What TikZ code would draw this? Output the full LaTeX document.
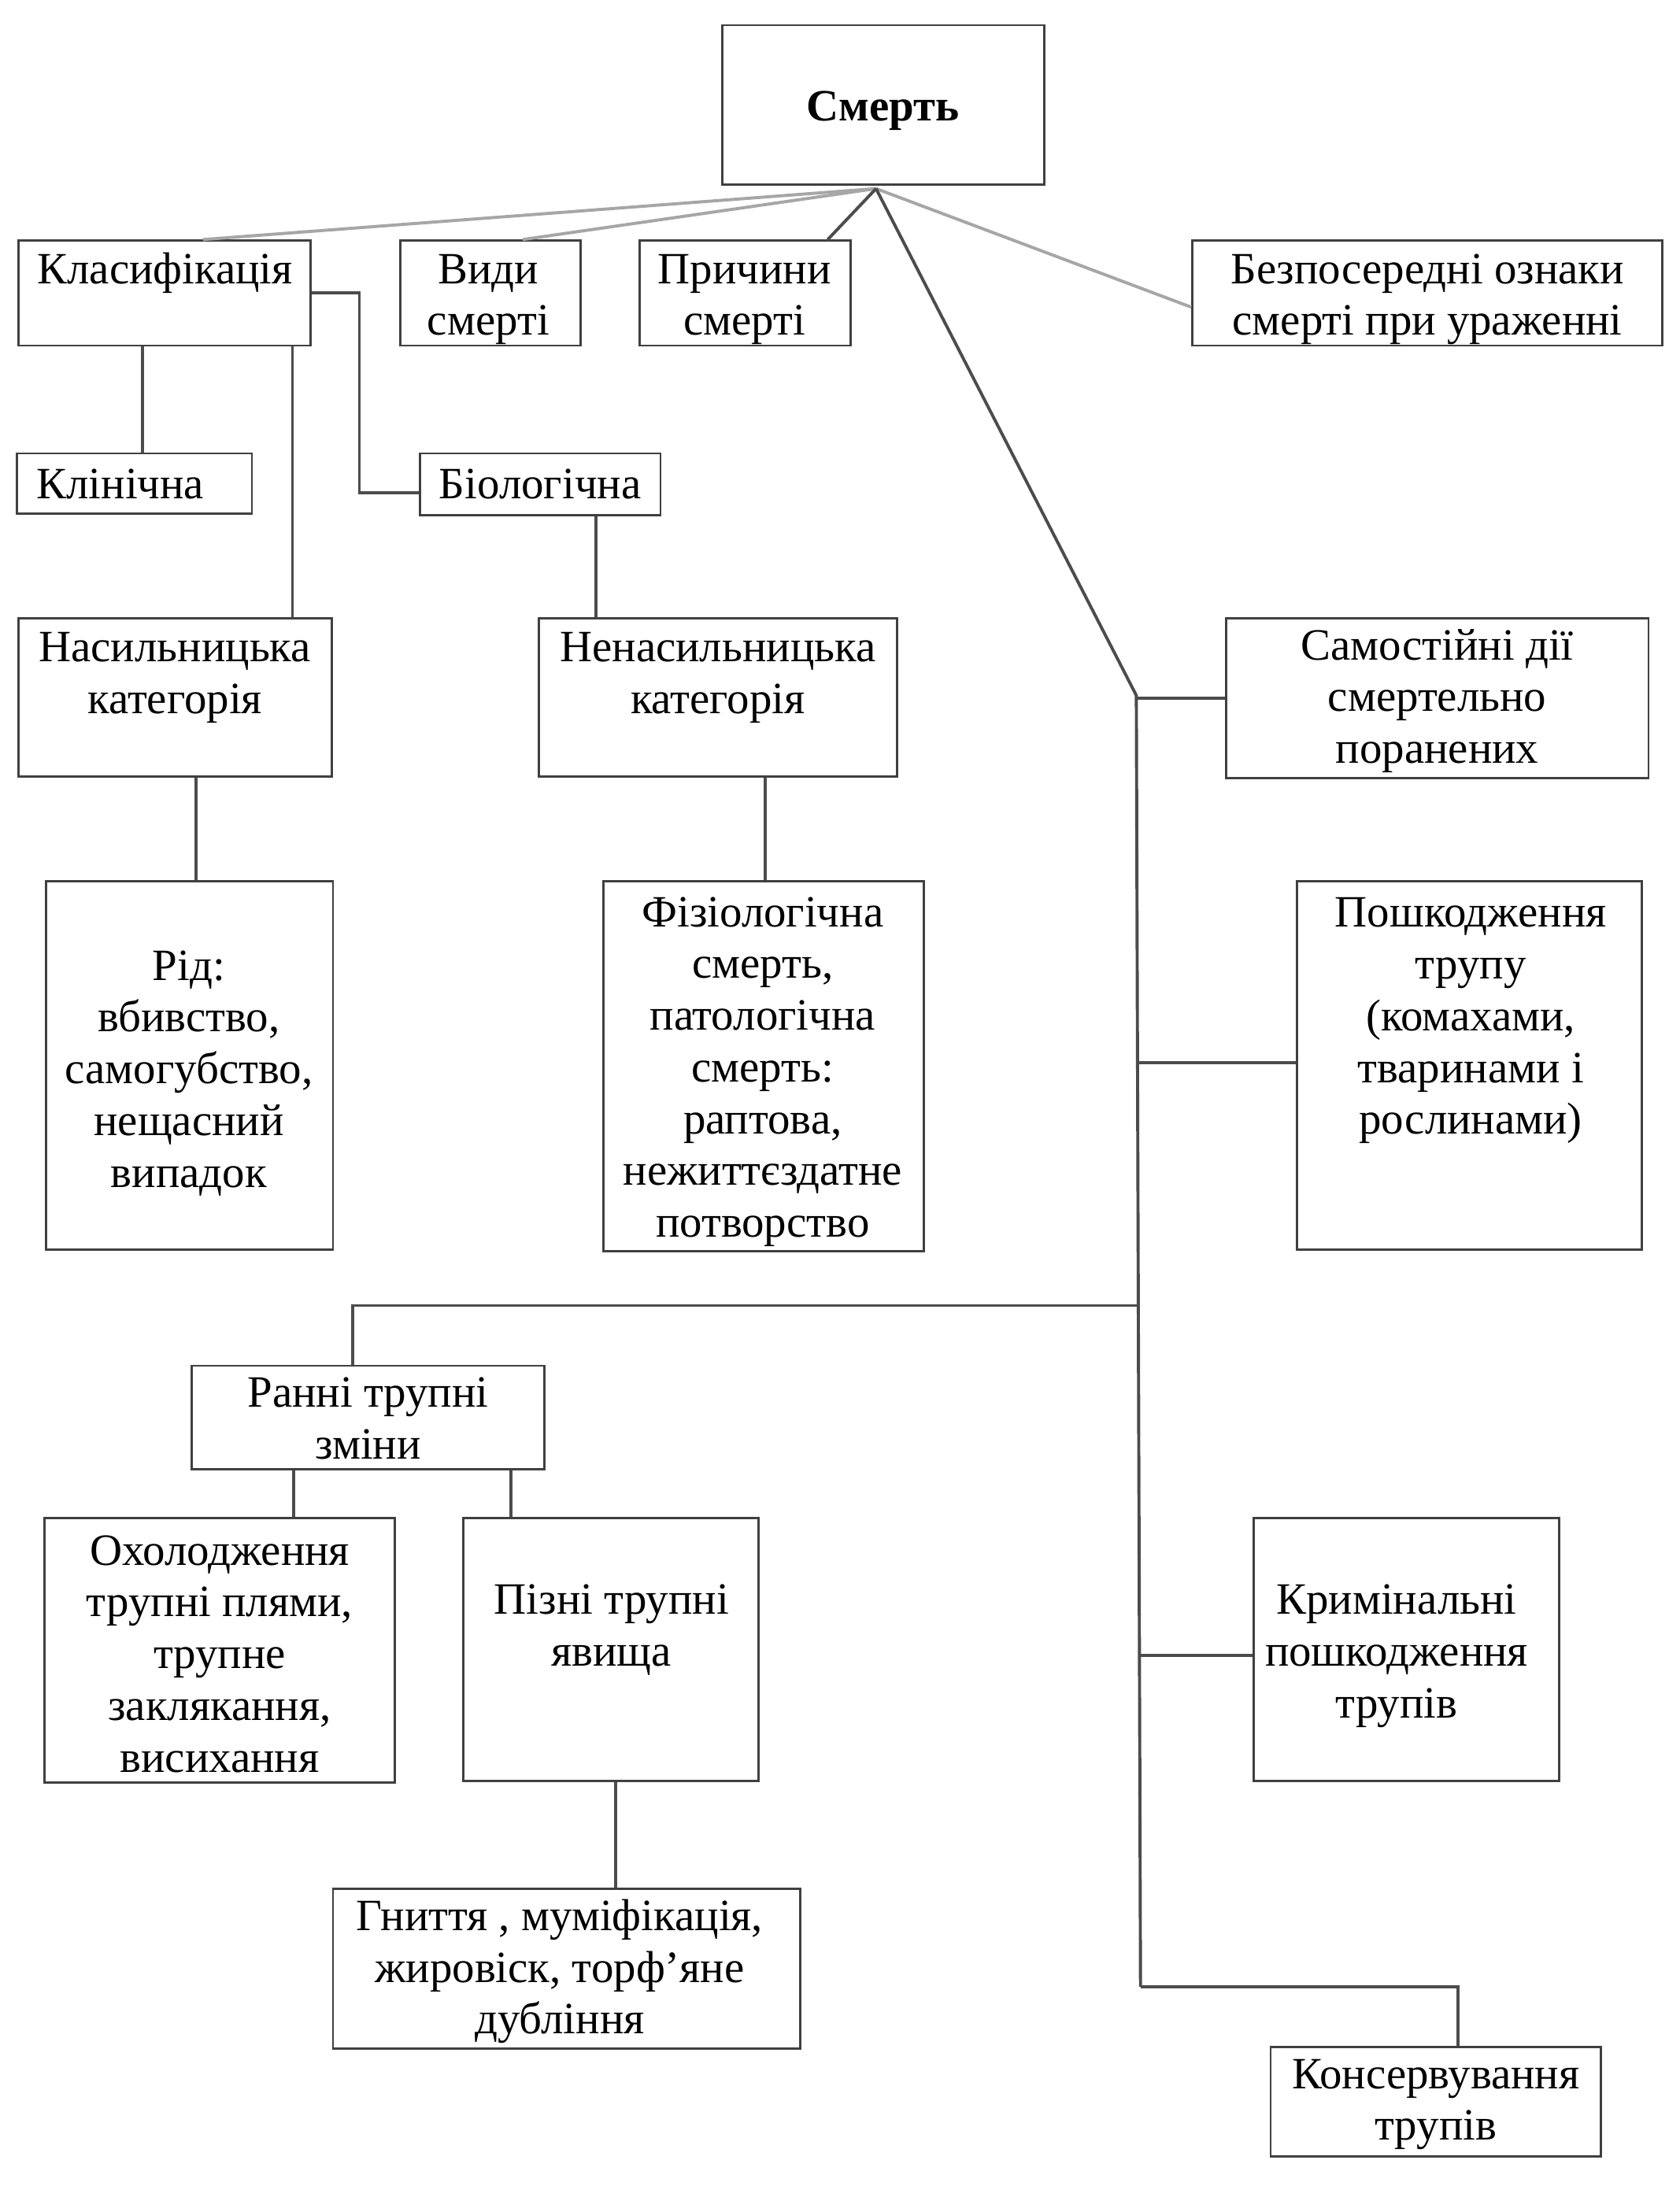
\documentclass[tikz,border=0pt]{standalone}
\usepackage{fontspec}
\setmainfont{Liberation Serif}
\usetikzlibrary{calc}
\tikzset{
  box/.style={draw=black!75, line width=0.8pt, inner sep=0pt},
  txt/.style={inner sep=0pt, align=center, yshift=-1.5pt, font=\fontsize{16}{18.5}\selectfont},
  dk/.style={draw=black!70, line width=1.1pt},
  lt/.style={draw=black!35, line width=1.1pt},
}
\newcommand\mkbox[5]{%
  \pgfmathsetmacro\cx{(#2+#4)/2}%
  \pgfmathsetmacro\cy{(#3+#5)/2}%
  \pgfmathsetmacro\bw{(#4-#2)*0.5}%
  \pgfmathsetmacro\bh{(#5-#3)*0.5}%
  \node[box, minimum width=\bw pt, minimum height=\bh pt] (#1) at (\cx,\cy) {};}
\begin{document}
\begin{tikzpicture}[x=0.5pt,y=-0.5pt]
\useasboundingbox[fill=white] (0,0) rectangle (1200,1578);
% boxes
\mkbox{smert}{516}{18}{746}{132}
\mkbox{klas}{13}{172}{222}{247}
\mkbox{vydy}{286}{172}{415}{247}
\mkbox{prych}{457}{172}{608}{247}
\mkbox{bezp}{852}{172}{1188}{247}
\mkbox{klin}{12}{324}{180}{367}
\mkbox{biol}{300}{324}{472}{368}
\mkbox{nas}{13}{442}{237}{555}
\mkbox{nen}{385}{442}{641}{555}
\mkbox{sam}{876}{442}{1178}{556}
\mkbox{rid}{33}{630}{238}{893}
\mkbox{fiz}{431}{630}{660}{894}
\mkbox{posh}{927}{630}{1173}{893}
\mkbox{rann}{137}{976}{389}{1050}
\mkbox{okh}{32}{1085}{282}{1274}
\mkbox{piz}{331}{1085}{542}{1273}
\mkbox{krim}{896}{1085}{1114}{1273}
\mkbox{hny}{238}{1350}{572}{1464}
\mkbox{kons}{908}{1463}{1144}{1541}
% texts
\node[txt, font=\fontsize{16}{18.5}\selectfont\bfseries] (smert-t) at (631,76) {Смерть};
\node[txt] (klas-t) at (118,192) {Класифікація};
\node[txt] (vydy-t) at (349,211) {Види\\смерті};
\node[txt] (prych-t) at (532,211) {Причини\\смерті};
\node[txt] (bezp-t) at (1020,211) {Безпосередні ознаки\\смерті при ураженні};
\node[txt] (klin-t) at (86,343) {Клінічна};
\node[txt] (biol-t) at (386,343) {Біологічна};
\node[txt] (nas-t) at (125,481.5) {Насильницька\\категорія};
\node[txt] (nen-t) at (513,481.5) {Ненасильницька\\категорія};
\node[txt] (sam-t) at (1027,498) {Самостійні дії\\смертельно\\поранених};
\node[txt] (rid-t) at (135,764) {Рід:\\вбивство,\\самогубство,\\нещасний\\випадок};
\node[txt] (fiz-t) at (545,763) {Фізіологічна\\смерть,\\патологічна\\смерть:\\раптова,\\нежиттєздатне\\потворство};
\node[txt] (posh-t) at (1051,726.5) {Пошкодження\\трупу\\(комахами,\\тваринами і\\рослинами)};
\node[txt] (rann-t) at (263,1010.5) {Ранні трупні\\зміни};
\node[txt] (okh-t) at (157,1179) {Охолодження\\трупні плями,\\трупне\\заклякання,\\висихання};
\node[txt] (piz-t) at (437,1162) {Пізні трупні\\явища};
\node[txt] (krim-t) at (998,1180.5) {Кримінальні\\пошкодження\\трупів};
\node[txt] (hny-t) at (400,1406) {Гниття , муміфікація,\\жировіск, торф’яне\\дубління};
\node[txt] (kons-t) at (1026,1501) {Консервування\\трупів};
% connectors from Смерть
\draw[lt] ($(smert.south)+(-5,2)$) -- ($(klas.north)+(27.5,0)$);
\draw[lt] ($(smert.south)+(-5,2)$) -- ($(vydy.north)+(23,0)$);
\draw[dk] ($(smert.south)+(-5,2)$) -- ($(prych.north)+(59,0)$);
\draw[lt] ($(smert.south)+(-5,2)$) -- ($(bezp.west)+(0,10)$);
\coordinate (t1) at (812,497);
\coordinate (t2) at (815,1420);
\draw[dk] ($(smert.south)+(-5,2)$) -- (t1) -- (t2);
% trunk branches
\draw[dk] (sam.west) -- (sam.west -| t1);
\draw[dk] ($(posh.west)+(0,-2)$) -- ($(posh.west -| t1)+(1,-2)$);
\draw[dk] ($(krim.west)+(0,4)$) -- ($(krim.west -| t1)+(2,4)$);
\coordinate (rj) at (813,933);
\coordinate (ra) at ($(rann.north)+(-11,0)$);
\draw[dk] (rj) -- (rj -| ra) -- (ra);
\coordinate (ka) at ($(kons.north)+(16,0)$);
\draw[dk] (t2) -- (t2 -| ka) -- (ka);
% Класифікація branches
\coordinate (k1) at ($(klas.south)+(-15.5,0)$);
\draw[dk] (k1) -- (k1 |- klin.north);
\coordinate (k2) at ($(klas.south)+(91.5,0)$);
\draw[dk] (k2) -- (k2 |- nas.north);
\draw[dk] (klas.east) -- ++(34,0) |- ($(biol.west)+(0,6)$);
\coordinate (b1) at ($(biol.south)+(40,0)$);
\draw[dk] (b1) -- (b1 |- nen.north);
\coordinate (n1) at ($(nas.south)+(15,0)$);
\draw[dk] (n1) -- (n1 |- rid.north);
\coordinate (n2) at ($(nen.south)+(34,0)$);
\draw[dk] (n2) -- (n2 |- fiz.north);
\coordinate (r1) at ($(rann.south)+(-53,0)$);
\draw[dk] (r1) -- (r1 |- okh.north);
\coordinate (r2) at ($(rann.south)+(102,0)$);
\draw[dk] (r2) -- (r2 |- piz.north);
\coordinate (p1) at ($(piz.south)+(3.5,0)$);
\draw[dk] (p1) -- (p1 |- hny.north);
\end{tikzpicture}
\end{document}
